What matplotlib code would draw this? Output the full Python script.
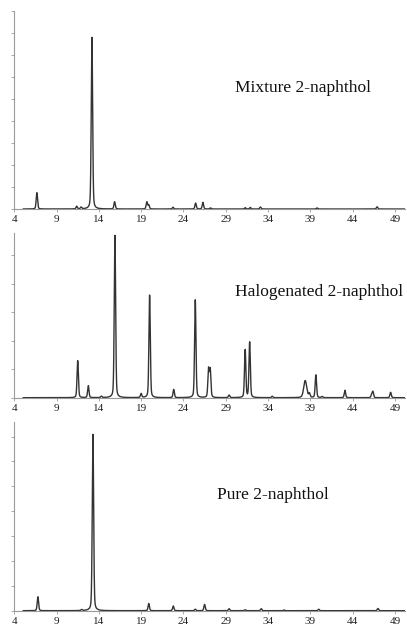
import numpy as np
import matplotlib
matplotlib.use("Agg")
import matplotlib.pyplot as plt

# Peak lists (2-theta in degrees, relative intensity in y-tick units)
mixture_pos = [6.67, 11.38, 11.90, 13.18, 15.86, 19.67, 19.90, 22.77, 25.44, 26.30, 27.20, 31.30, 31.90, 33.10, 39.80, 46.90]
mixture_int = [0.74, 0.12, 0.08, 7.79, 0.33, 0.32, 0.18, 0.08, 0.27, 0.30, 0.05, 0.06, 0.07, 0.09, 0.05, 0.10]

halogen_pos = [11.50, 12.75, 14.30, 15.90, 19.00, 20.00, 22.85, 25.40, 26.97, 27.17, 29.40, 31.30, 31.83, 34.50, 38.40, 38.90, 39.66, 40.40, 43.10, 46.25, 46.40, 48.50]
halogen_int = [1.30, 0.42, 0.05, 5.71, 0.14, 3.61, 0.29, 3.44, 0.99, 0.96, 0.09, 1.68, 1.95, 0.05, 0.60, 0.14, 0.80, 0.04, 0.26, 0.09, 0.21, 0.19]

pure_pos = [6.79, 11.97, 13.30, 19.90, 22.80, 25.40, 26.50, 29.40, 31.30, 33.20, 35.90, 40.00, 47.00]
pure_int = [0.56, 0.04, 7.09, 0.29, 0.19, 0.06, 0.25, 0.08, 0.04, 0.08, 0.03, 0.06, 0.09]

panel_titles = ["Mixture 2-naphthol", "Halogenated 2-naphthol", "Pure 2-naphthol"]
x_ticks = [4, 9, 14, 19, 24, 29, 34, 39, 44, 49]


def pattern(two_theta, positions, heights, fwhm=0.19):
    """Sum of pseudo-Voigt peaks for a powder diffraction pattern."""
    y = np.zeros_like(two_theta)
    for p, h in zip(positions, heights):
        w = fwhm * (2.2 if 38.0 < p < 38.6 else 1.0)
        g = np.exp(-4 * np.log(2) * ((two_theta - p) / w) ** 2)
        l = 1.0 / (1.0 + 4 * ((two_theta - p) / w) ** 2)
        y += h * (0.7 * g + 0.3 * l)
    return y


two_theta = np.linspace(5.06, 50.2, 6000)

fig = plt.figure(figsize=(4.07, 6.27), dpi=100)

serif = ["Liberation Serif", "DejaVu Serif"]
axis_grey = "#9a9a9a"
line_col = "#333333"

panels = [
    # (positions, heights, ylim top, n ticks, axes rect, title xy in axes coords)
    (mixture_pos, mixture_int, 9.0, 9, [14.3 / 407, 418 / 627, 390.7 / 407, 198.3 / 627], (0.565, 0.61)),
    (halogen_pos, halogen_int, 5.78, 5, [14.3 / 407, 229.3 / 627, 390.7 / 407, 164.4 / 627], (0.565, 0.645)),
    (pure_pos, pure_int, 7.6, 7, [14.3 / 407, 16.3 / 627, 390.7 / 407, 189.0 / 627], (0.52, 0.61)),
]

for (pos, hts, ytop, nticks, rect, txy), title in zip(panels, panel_titles):
    ax = fig.add_axes(rect)
    ax.plot(two_theta, pattern(two_theta, pos, hts), color=line_col, lw=1.0)
    ax.set_xlim(4, 50.2)
    ax.set_ylim(0, ytop)
    ax.set_xticks(x_ticks)
    ax.set_yticks(np.arange(0, nticks + 1))
    ax.set_yticklabels([])
    for s in ("top", "right"):
        ax.spines[s].set_visible(False)
    for s in ("left", "bottom"):
        ax.spines[s].set_color(axis_grey)
        ax.spines[s].set_linewidth(0.8)
    ax.tick_params(axis="y", length=2, width=0.6, color=axis_grey)
    ax.tick_params(axis="x", length=2, width=0.6, color=axis_grey, pad=2.5,
                   labelsize=8, labelcolor="#222222")
    for lbl in ax.get_xticklabels():
        lbl.set_family(serif)
    ax.text(txy[0], txy[1], title, transform=ax.transAxes, fontsize=12.5,
            family=serif, color="#111111", ha="left", va="center")

fig.savefig("out.png", dpi=100)
